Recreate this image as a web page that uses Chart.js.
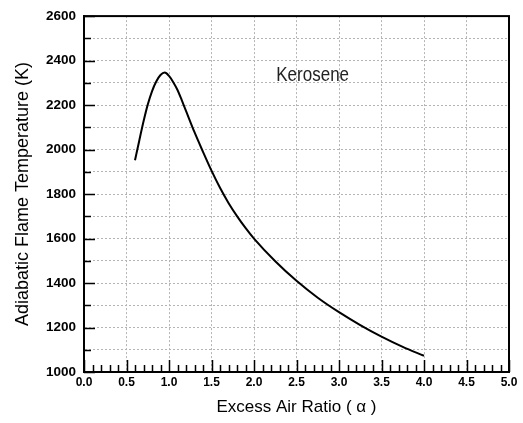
<!DOCTYPE html>
<html>
<head>
<meta charset="utf-8">
<script src="https://cdn.jsdelivr.net/npm/chart.js@4/dist/chart.umd.min.js"></script>
<style>
  body { margin: 0; background: #fff; }
  canvas { display: block; }
</style>
</head>
<body>
<canvas id="myChart" width="523" height="423"></canvas>
<script>
// excess air ratio vs adiabatic flame temperature
const alpha = [0.6, 0.65, 0.7, 0.75, 0.8, 0.85, 0.9, 0.95, 1.0, 1.05, 1.1, 1.15, 1.2, 1.3, 1.4, 1.5,
  1.6, 1.7, 1.8, 1.9, 2.0, 2.25, 2.5, 2.75, 3.0, 3.25, 3.5, 3.75, 4.0];
const temp = [1952, 2040, 2126, 2202, 2262, 2306, 2335, 2346, 2331, 2303, 2268, 2222, 2174, 2078, 1990, 1905,
  1828, 1760, 1701, 1648, 1600, 1498, 1410, 1334, 1269, 1211, 1159, 1113, 1073];
const fuelLabel = 'Kerosene';
const xTitle = 'Excess Air Ratio ( \u03b1 )';
const yTitle = 'Adiabatic Flame Temperature (K)';

const FONT = "'Liberation Sans', Arial, sans-serif";

// inward tick marks, frame and the curve label
const framePlugin = {
  id: 'frame',
  afterDraw(chart) {
    const { ctx, chartArea: a, scales: { x, y } } = chart;
    ctx.save();
    ctx.strokeStyle = '#000';
    ctx.lineWidth = 1.5;
    ctx.beginPath();
    for (let i = 0; i <= 50; i++) {
      const px = Math.round(x.getPixelForValue(i / 10)) + 0.5;
      const len = i % 5 === 0 ? 12 : 7;
      ctx.moveTo(px, a.bottom);
      ctx.lineTo(px, a.bottom - len);
    }
    for (let v = 1000; v <= 2600; v += 100) {
      const py = Math.round(y.getPixelForValue(v)) + 0.5;
      const len = v % 200 === 0 ? 11 : 7;
      ctx.moveTo(a.left, py);
      ctx.lineTo(a.left + len, py);
    }
    ctx.stroke();
    ctx.lineWidth = 2;
    ctx.strokeRect(a.left, a.top, a.right - a.left, a.bottom - a.top);

    // condensed label text
    ctx.translate(x.getPixelForValue(2.69), y.getPixelForValue(2333));
    ctx.scale(0.85, 1);
    ctx.fillStyle = '#222';
    ctx.font = '20px ' + FONT;
    ctx.textAlign = 'center';
    ctx.textBaseline = 'middle';
    ctx.fillText(fuelLabel, 0, 0);
    ctx.restore();
  }
};

const ctx = document.getElementById('myChart').getContext('2d');
const myChart = new Chart(ctx, {
  type: 'scatter',
  data: {
    datasets: [{
      data: alpha.map((a, i) => ({ x: a, y: temp[i] })),
      showLine: true,
      borderColor: '#000',
      borderWidth: 2,
      pointRadius: 0,
      cubicInterpolationMode: 'monotone',
    }],
  },
  options: {
    responsive: false,
    animation: false,
    layout: { padding: { top: 12, right: 14, left: 0, bottom: 0 } },
    plugins: { legend: { display: false }, tooltip: { enabled: false } },
    scales: {
      x: {
        type: 'linear',
        min: 0,
        max: 5,
        afterFit: (scale) => { scale.height = 51; },
        ticks: {
          stepSize: 0.5,
          padding: 3,
          maxRotation: 0,
          color: '#000',
          font: { family: FONT, size: 12, weight: 'bold' },
          callback: (v) => v.toFixed(1),
        },
        grid: { color: '#b4b4b4', lineWidth: 1, drawTicks: false },
        border: { color: '#000', width: 2, dash: [2, 2] },
        title: {
          display: true,
          text: xTitle,
          color: '#000',
          font: { family: FONT, size: 17 },
          padding: { top: 0, bottom: 5 },
        },
      },
      y: {
        min: 1000,
        max: 2600,
        afterFit: (scale) => { scale.width = 84; },
        ticks: {
          stepSize: 100,
          padding: 8,
          color: '#000',
          font: { family: FONT, size: 13.5, weight: 'bold' },
          callback: (v) => (v % 200 === 0 ? v : ''),
        },
        grid: { color: '#b4b4b4', lineWidth: 1, drawTicks: false },
        border: { color: '#000', width: 2, dash: [2, 2] },
        title: {
          display: true,
          text: yTitle,
          color: '#000',
          font: { family: FONT, size: 18 },
          padding: { top: 12, bottom: 0 },
        },
      },
    },
  },
  plugins: [framePlugin],
});
</script>
</body>
</html>
